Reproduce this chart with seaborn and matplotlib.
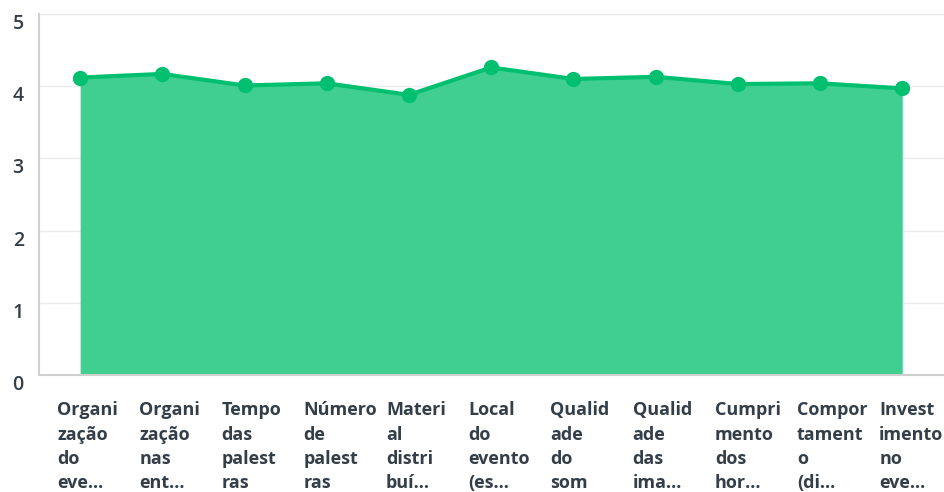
import numpy as np
import pandas as pd
import seaborn as sns
import matplotlib.pyplot as plt

# dados
categorias = ["Organi\nzação\ndo\neve...", "Organi\nzação\nnas\nent...",
              "Tempo\ndas\npalest\nras", "Número\nde\npalest\nras",
              "Materi\nal\ndistri\nbuí...", "Local\ndo\nevento\n(es...",
              "Qualid\nade\ndo\nsom", "Qualid\nade\ndas\nima...",
              "Cumpri\nmento\ndos\nhor...", "Compor\ntament\no\n(di...",
              "Invest\nimento\nno\neve..."]
medias = [4.12, 4.17, 4.01, 4.04, 3.88, 4.26, 4.10, 4.13, 4.03, 4.04, 3.97]
yticks = [0, 1, 2, 3, 4, 5]

df = pd.DataFrame({"pos": np.arange(len(categorias)), "media": medias})

sns.set_style("white")
plt.rcParams['font.family'] = ['Open Sans', 'DejaVu Sans']
texto = "#333e48"
verde = "#00bf6f"

fig = plt.figure(figsize=(9.45, 4.92), dpi=100)
ax = fig.add_axes([0.0413, 0.238, 0.9587, 0.7335])

ax.fill_between(df["pos"], 0, df["media"], color="#40cf90", linewidth=0, zorder=2)
sns.lineplot(data=df, x="pos", y="media", ax=ax, color=verde, linewidth=3,
             marker="o", markersize=11, markeredgewidth=0, zorder=3)

ax.set_xlim(-0.5, 10.52)
ax.set_ylim(0, 5)
ax.set_yticks(yticks)
ax.set_yticklabels([str(v) for v in yticks], fontsize=14, color=texto,
                   fontweight="semibold", va="top")
# rotulos alinhados a esquerda, um pouco antes de cada ponto
ax.set_xticks(df["pos"] - 0.28)
ax.set_xticklabels(categorias, fontsize=13, color=texto, fontweight="bold",
                   ha="left", va="top", linespacing=1.45)
ax.tick_params(axis="both", length=0)
ax.tick_params(axis="y", pad=11)
ax.tick_params(axis="x", pad=19)

ax.grid(axis="y", color="#ebebeb", linewidth=1, zorder=0)
for s in ["top", "right"]:
    ax.spines[s].set_visible(False)
ax.spines["left"].set_color("#d0d0d0")
ax.spines["bottom"].set_color("#d0d0d0")
ax.spines["left"].set_linewidth(1.5)
ax.spines["bottom"].set_linewidth(1.5)
ax.set_xlabel("")
ax.set_ylabel("")

fig.savefig("out.png", dpi=100)
